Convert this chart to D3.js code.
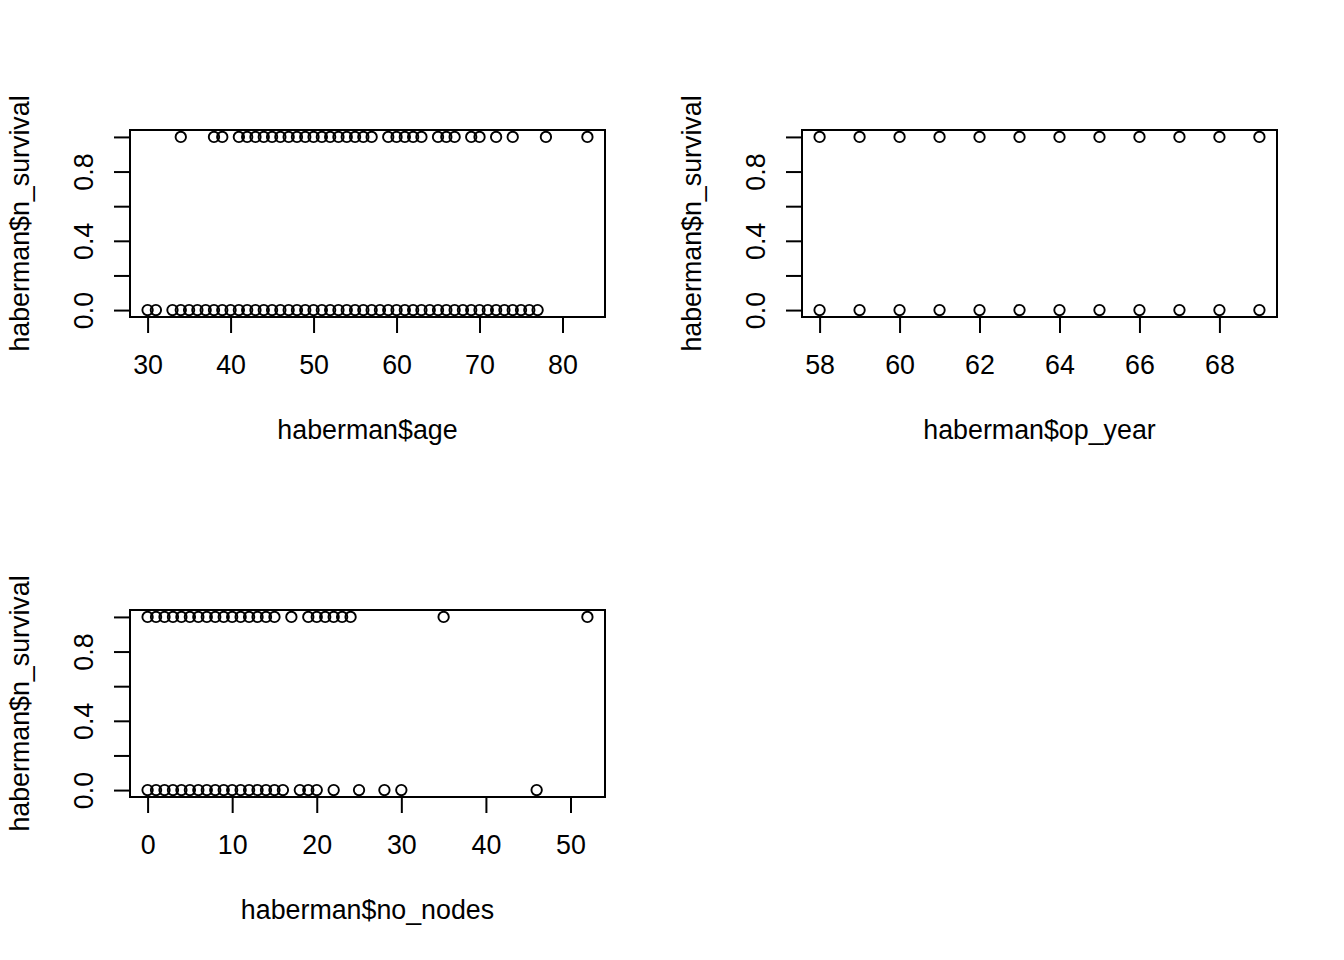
<!DOCTYPE html>
<html>
<head>
<meta charset="utf-8">
<script src="https://cdn.jsdelivr.net/npm/d3@7"></script>
<style>
  html, body { margin: 0; padding: 0; background: #fff; }
  svg { display: block; }
  text { font-family: "Liberation Sans", Arial, sans-serif; fill: #000; }
</style>
</head>
<body>
<svg id="chart" width="1344" height="960"></svg>
<script>
// ---- data ----
// age values where n_survival == 1 and == 0
const ageSurv1 = [34, 38, 39, 41, 42, 43, 44, 45, 46, 47, 48, 49, 50, 51, 52, 53, 54, 55, 56, 57,
                  59, 60, 61, 62, 63, 65, 66, 67, 69, 70, 72, 74, 78, 83];
const ageSurv0 = [30, 31, 33, 34, 35, 36, 37, 38, 39, 40, 41, 42, 43, 44, 45, 46, 47, 48, 49, 50,
                  51, 52, 53, 54, 55, 56, 57, 58, 59, 60, 61, 62, 63, 64, 65, 66, 67, 68, 69, 70,
                  71, 72, 73, 74, 75, 76, 77];
// op_year values
const yearSurv1 = [58, 59, 60, 61, 62, 63, 64, 65, 66, 67, 68, 69];
const yearSurv0 = [58, 59, 60, 61, 62, 63, 64, 65, 66, 67, 68, 69];
// no_nodes values
const nodesSurv1 = [0, 1, 2, 3, 4, 5, 6, 7, 8, 9, 10, 11, 12, 13, 14, 15, 17, 19, 20, 21, 22, 23, 24, 35, 52];
const nodesSurv0 = [0, 1, 2, 3, 4, 5, 6, 7, 8, 9, 10, 11, 12, 13, 14, 15, 16, 18, 19, 20, 22, 25, 28, 30, 46];

const ageTicks = [30, 40, 50, 60, 70, 80];
const yearTicks = [58, 60, 62, 64, 66, 68];
const nodesTicks = [0, 10, 20, 30, 40, 50];
const yTicks = [0, 0.2, 0.4, 0.6, 0.8, 1.0];
const yTickLabels = ["0.0", "", "0.4", "", "0.8", ""];
const yTitle = "haberman$n_survival";

const panels = [
  { x: ageTicks, title: "haberman$age", s1: ageSurv1, s0: ageSurv0, left: 130, top: 130 },
  { x: yearTicks, title: "haberman$op_year", s1: yearSurv1, s0: yearSurv0, left: 802, top: 130 },
  { x: nodesTicks, title: "haberman$no_nodes", s1: nodesSurv1, s0: nodesSurv0, left: 130, top: 610 }
];

const W = 475, H = 187, FS = 26.8;
const svg = d3.select("#chart");

function padDomain(lo, hi) { const p = (hi - lo) * 0.04; return [lo - p, hi + p]; }

panels.forEach(p => {
  const all = p.s1.concat(p.s0);
  const xs = d3.scaleLinear().domain(padDomain(d3.min(all), d3.max(all))).range([0, W]);
  const ys = d3.scaleLinear().domain(padDomain(0, 1)).range([H, 0]);
  const g = svg.append("g").attr("transform", `translate(${p.left},${p.top})`);

  // box
  g.append("rect").attr("x", 0).attr("y", 0).attr("width", W).attr("height", H)
    .attr("fill", "none").attr("stroke", "#000").attr("stroke-width", 2);

  // x axis
  const xa = g.append("g").attr("transform", `translate(0,${H})`)
    .call(d3.axisBottom(xs).tickValues(p.x).tickSize(16).tickSizeOuter(0).tickPadding(22).tickFormat(d3.format("d")));
  xa.select(".domain").remove();
  xa.selectAll(".tick line").attr("stroke", "#000").attr("stroke-width", 2);
  xa.selectAll(".tick text").style("font-size", FS + "px").style("font-family", "Liberation Sans, Arial, sans-serif").attr("fill", "#000");

  // y axis
  const ya = g.append("g")
    .call(d3.axisLeft(ys).tickValues(yTicks).tickSize(16).tickSizeOuter(0).tickPadding(0)
      .tickFormat((d, i) => yTickLabels[i]));
  ya.select(".domain").remove();
  ya.selectAll(".tick line").attr("stroke", "#000").attr("stroke-width", 2);
  ya.selectAll(".tick text")
    .attr("x", null).attr("dy", null)
    .attr("transform", "translate(-46,0) rotate(-90)")
    .attr("text-anchor", "middle").attr("dominant-baseline", "central")
    .style("font-size", FS + "px").style("font-family", "Liberation Sans, Arial, sans-serif").attr("fill", "#000");

  // axis titles
  g.append("text").attr("x", W / 2).attr("y", H + 113)
    .attr("text-anchor", "middle").attr("dominant-baseline", "central")
    .style("font-size", FS + "px").text(p.title);
  g.append("text").attr("transform", `translate(-110,${H / 2}) rotate(-90)`)
    .attr("text-anchor", "middle").attr("dominant-baseline", "central")
    .style("font-size", FS + "px").text(yTitle);

  // points
  const pts = p.s1.map(v => ({ x: v, y: 1 })).concat(p.s0.map(v => ({ x: v, y: 0 })));
  g.append("g").selectAll("circle").data(pts).join("circle")
    .attr("cx", d => xs(d.x)).attr("cy", d => ys(d.y)).attr("r", 5.2)
    .attr("fill", "none").attr("stroke", "#000").attr("stroke-width", 1.9);
});
</script>
</body>
</html>
